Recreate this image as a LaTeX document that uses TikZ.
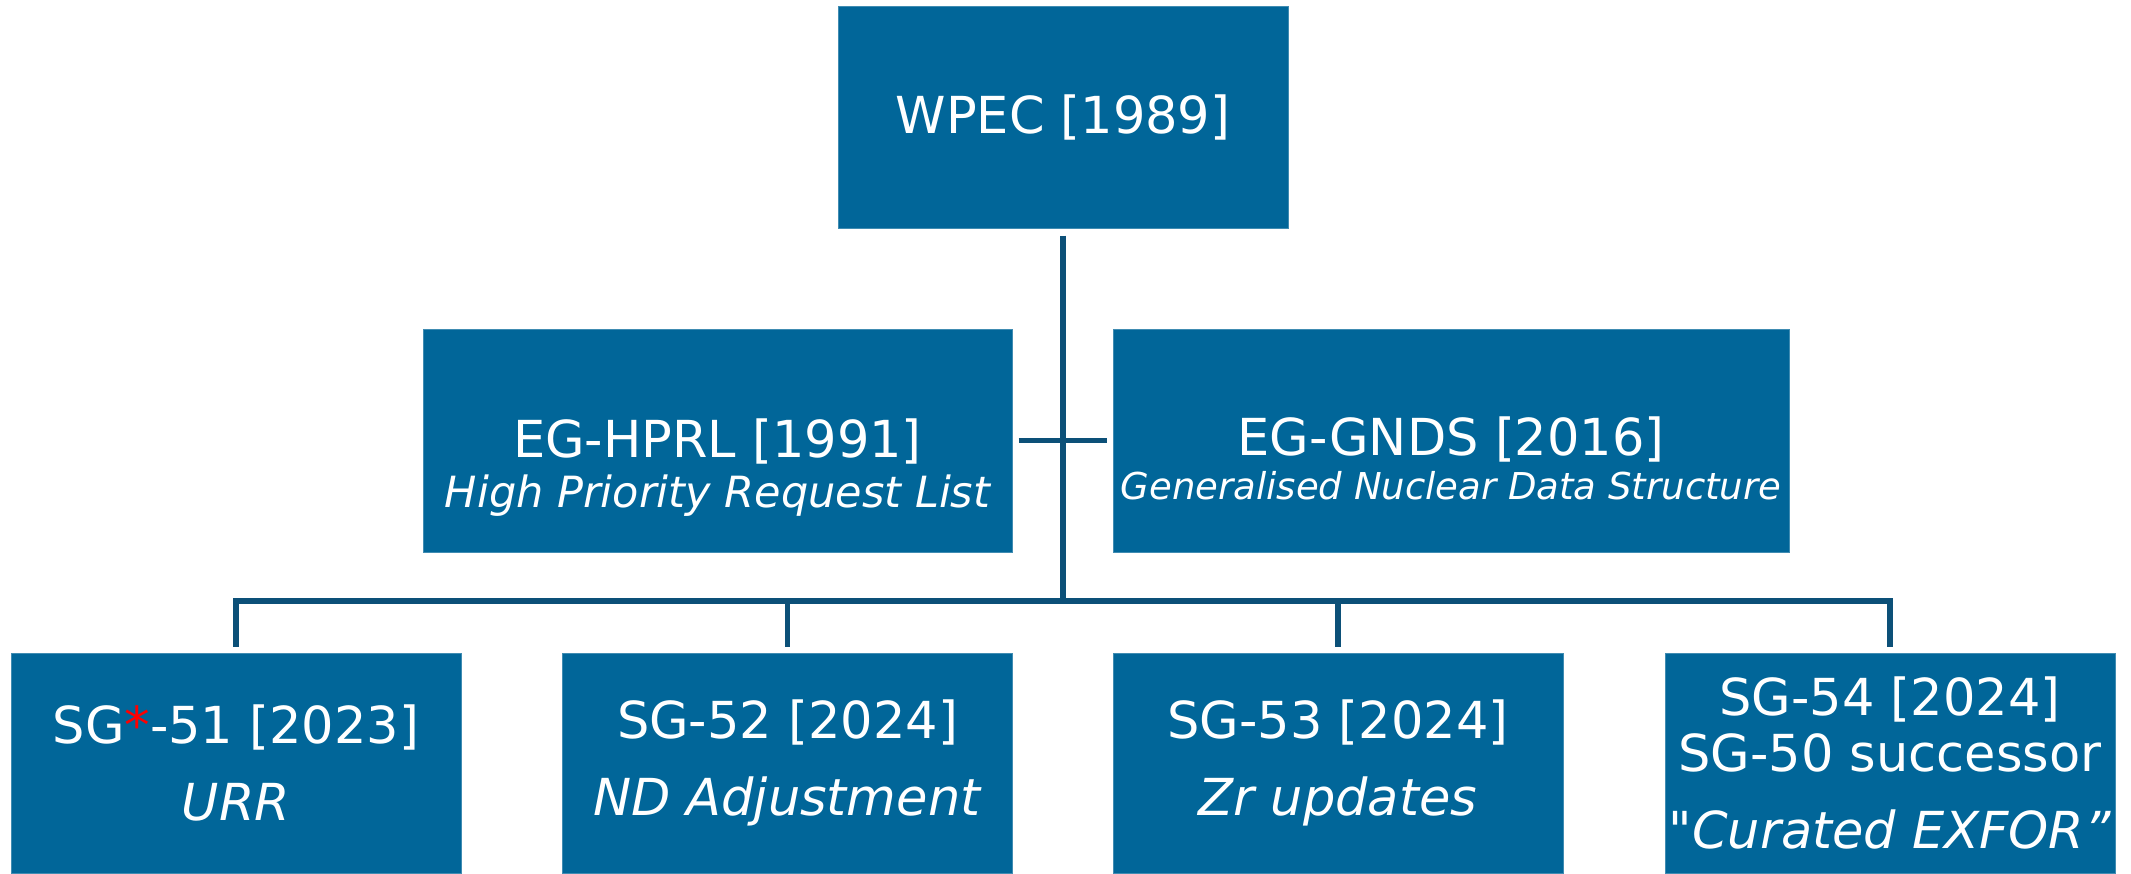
\documentclass[tikz,border=0pt]{standalone}
\usepackage{fontspec}
\setmainfont{DejaVu Sans}
\newfontfamily\plainquote{DejaVu Sans}[Ligatures=ResetAll, ItalicFont={DejaVu Sans Oblique}]
\usepackage{xcolor}
\usetikzlibrary{positioning,calc}
\definecolor{boxblue}{RGB}{1,102,153}
\definecolor{linkblue}{RGB}{12,80,120}

\begin{document}
\begin{tikzpicture}[x = .5pt, y = -.5pt,
  box/.style = {fill = boxblue, draw = boxblue!75!white, line width = .5pt, text = white, align = center, inner sep = 0pt, font = \fontsize{25.5}{28}\selectfont},
  eg/.style = {box, minimum height = 111.5pt},
  sg/.style = {box, minimum width = 225pt, minimum height = 110pt},
  link/.style = {draw = linkblue, line width = 2.75pt}]
\useasboundingbox (0,0) rectangle (2131,873);
\node[box, minimum width = 225pt, minimum height = 111pt] (wpec) at (1063,117) {WPEC [1989]};
\node[eg, minimum width = 294.5pt] (hprl) at (717.5,440.5) {\mbox{}\\[18.6pt]EG-HPRL [1991]\\[-3pt]{\fontsize{21.5}{24}\selectfont\itshape High Priority Request List}};
\node[eg, minimum width = 338pt] (gnds) at (1451,440.5) {\mbox{}\\[9pt]EG-GNDS [2016]\\[-6pt]{\fontsize{18.5}{21}\selectfont\itshape Generalised Nuclear Data Structure}};
\node[sg] (sg51) at (236,763) {SG{\color{red}*}-51 [2023]\\[10.5pt]\textit{URR}};
\node[sg] (sg52) at (787.5,763) {SG-52 [2024]\\[10.5pt]\textit{ND Adjustment}};
\node[sg] (sg53) at (1338,763) {SG-53 [2024]\\[10.5pt]\textit{Zr updates}};
\node[sg] (sg54) at (1890,763) {SG-54 [2024]\\SG-50 successor\\[10.5pt]\textit{{\plainquote\itshape"}Curated EXFOR''}};
\coordinate (bus) at (1063,601);
\draw[link, shorten <= 3.5pt] (wpec) -- (bus);
\draw[link, shorten <= 3pt, shorten >= 3pt] (hprl) -- (gnds);
\draw[link, shorten <= 3pt, shorten >= 3pt] (sg51) -- (sg51 |- bus) -- (sg54 |- bus) -- (sg54);
\foreach \n in {sg52, sg53}
  \draw[link, shorten >= 3pt] (\n |- bus) -- (\n);
\end{tikzpicture}
\end{document}
